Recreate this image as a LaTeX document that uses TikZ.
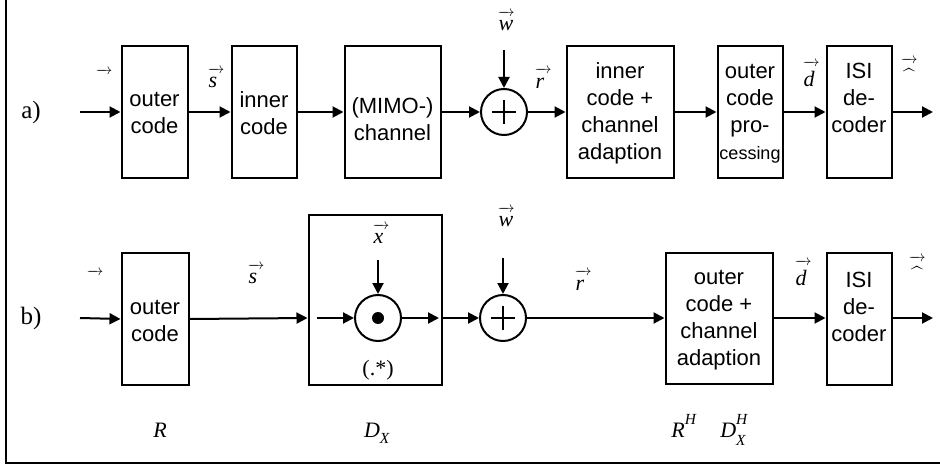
\RequirePackage{fix-cm}
\documentclass[tikz,border=0pt]{standalone}
\usepackage{amsmath}
\usepackage{fontspec}
\setmainfont{Liberation Serif}
\setsansfont{Liberation Sans}
\usetikzlibrary{arrows.meta}
\newcommand\varr{\hbox to 17pt{\fontsize{15}{15}\selectfont\rightarrowfill}}
\newcommand\vlab[1]{$\overset{\varr}{\makebox[17pt][l]{\hspace{1pt}\textit{#1}}}$}
\newcommand\hatlab{$\overset{\varr}{\makebox[17pt][c]{$\widehat{\phantom{s}}$}}$}
\begin{document}
\begin{tikzpicture}[x=1pt,y=-1pt,line width=2pt,
  blk/.style={draw,rectangle,inner sep=0pt,minimum height=132pt},
  bt/.style={font=\sffamily\fontsize{22}{27}\selectfont,align=center,inner sep=0pt},
  lab/.style={font=\fontsize{22}{24}\selectfont,inner sep=0pt},
  arr/.style={-{Triangle[length=11pt,width=11pt]}},
  sumnode/.style={draw,circle,minimum size=46pt,inner sep=0pt,
    path picture={\draw[line width=2.2pt] ([xshift=-12pt]path picture bounding box.center) -- ([xshift=12pt]path picture bounding box.center);
                  \draw[line width=2.2pt] ([yshift=-12pt]path picture bounding box.center) -- ([yshift=12pt]path picture bounding box.center);}},
  mulnode/.style={draw,circle,minimum size=46pt,inner sep=0pt,
    path picture={\fill (path picture bounding box.center) circle[radius=6pt];}}]
\useasboundingbox (0,0) rectangle (940,465);
% frame
\coordinate (ftop) at (6,0);
\coordinate (fcorner) at (6,463);
\coordinate (fright) at (940,463);
\draw[line width=2pt] (ftop) -- (fcorner) -- (fright);

% ---------- row a ----------
\node[lab,font=\fontsize{25}{28}\selectfont] (la) at (31,112) {a)};
\node[blk,minimum width=66pt] (outerA) at (154.5,112) {};
\node[bt] (outerAt) at (154.5,113) {outer\\code};
\node[blk,minimum width=65pt] (innerA) at (264,112) {};
\node[bt] (innerAt) at (264,113) {inner\\code};
\node[blk,minimum width=96pt] (mimoA) at (392.5,112) {};
\node[bt] (mimoAt) at (392.5,119) {(MIMO-)\\channel};
\node[sumnode] (sumA) at (504,112) {};
\node[blk,minimum width=107pt] (icaA) at (620,112) {};
\node[bt] (icaAt) at (620,113) {inner\\code +\\channel\\adaption};
\node[blk,minimum width=65pt] (ocpA) at (750,112) {};
\node[bt] (ocpAt) at (750,114) {outer\\code\\pro-\\{\fontsize{18}{22}\selectfont cessing}};
\node[blk,minimum width=65pt] (isiA) at (859,112) {};
\node[bt] (isiAt) at (859,98) {ISI\\de-\\coder};

\coordinate (inA) at (80,112);
\coordinate (outA) at (933,112);
\coordinate (wA) at (504,50);
\draw[arr] (inA) -- (outerA.west);
\draw[arr] (outerA.east) -- (innerA.west);
\draw[arr] (innerA.east) -- (mimoA.west);
\draw[arr] (mimoA.east) -- (sumA.west);
\draw[arr] (wA) -- (sumA.north);
\draw[arr] (sumA.east) -- (icaA.west);
\draw[arr] (icaA.east) -- (ocpA.west);
\draw[arr] (ocpA.east) -- (isiA.west);
\draw[arr] (isiA.east) -- (outA);

\node[lab] (vA0) at (104,72) {\varr};
\node[lab] (vAs) at (216,77) {\vlab{s}};
\node[lab] (vAw) at (506,20) {\vlab{w}};
\node[lab] (vAr) at (543,77) {\vlab{r}};
\node[lab] (vAd) at (811,73) {\vlab{d}};
\node[lab] (vAh) at (909,70) {\hatlab};

% ---------- row b ----------
\node[lab,font=\fontsize{25}{28}\selectfont] (lb) at (31,318) {b)};
\node[blk,minimum width=67pt] (outerB) at (155,319) {};
\node[bt] (outerBt) at (155,321) {outer\\code};
\node[blk,minimum width=133pt,minimum height=169pt] (dxB) at (375,300) {};
\node[mulnode] (mulB) at (378,318) {};
\node[sumnode] (sumB) at (503,318) {};
\node[blk,minimum width=107pt,minimum height=131pt] (ocaB) at (719,318.5) {};
\node[bt] (ocaBt) at (719,320) {outer\\code +\\channel\\adaption};
\node[blk,minimum width=65pt] (isiB) at (859,319) {};
\node[bt] (isiBt) at (859,307) {ISI\\de-\\coder};

\coordinate (inB) at (80,318);
\coordinate (dxIn) at (317,318);
\coordinate (dxOut) at (439,318);
\coordinate (xB) at (378,260);
\coordinate (wB) at (503,258);
\coordinate (outB) at (933,318);
\draw[arr] (inB) -- (outerB.west);
\draw[arr] (outerB.east) -- (dxB.west |- inB);
\draw[arr] (dxIn) -- (mulB.west);
\draw[arr] (xB) -- (mulB.north);
\draw[arr] (mulB.east) -- (dxOut);
\draw[arr] (dxB.east |- inB) -- (sumB.west);
\draw[arr] (wB) -- (sumB.north);
\draw[arr] (sumB.east) -- (ocaB.west |- inB);
\draw[arr] (ocaB.east |- inB) -- (isiB.west |- inB);
\draw[arr] (isiB.east |- inB) -- (outB);

\node[lab] (vB0) at (95,273) {\varr};
\node[lab] (vBs) at (256,273) {\vlab{s}};
\node[lab] (vBx) at (381,233) {\vlab{x}};
\node[lab] (vBw) at (506,216) {\vlab{w}};
\node[lab] (vBr) at (583,279) {\vlab{r}};
\node[lab] (vBd) at (803,272) {\vlab{d}};
\node[lab] (vBh) at (917,268) {\hatlab};
\node[lab] (star) at (378,370) {(.*)};

% ---------- bottom labels ----------
\node[lab] (mR) at (160,430) {$\textit{R}$};
\node[lab] (mD) at (377,433) {$\textit{D}_{\raisebox{-3pt}{$\scriptstyle\textit{X}$}}$};
\node[lab] (mRH) at (684,426) {$\textit{R}^{\raisebox{5pt}{$\scriptstyle\textit{H}$}}$};
\node[lab] (mDH) at (734,430) {$\textit{D}_{\raisebox{-3pt}{$\scriptstyle\textit{X}$}}^{\raisebox{5pt}{$\scriptstyle\textit{H}$}}$};
\end{tikzpicture}
\end{document}
